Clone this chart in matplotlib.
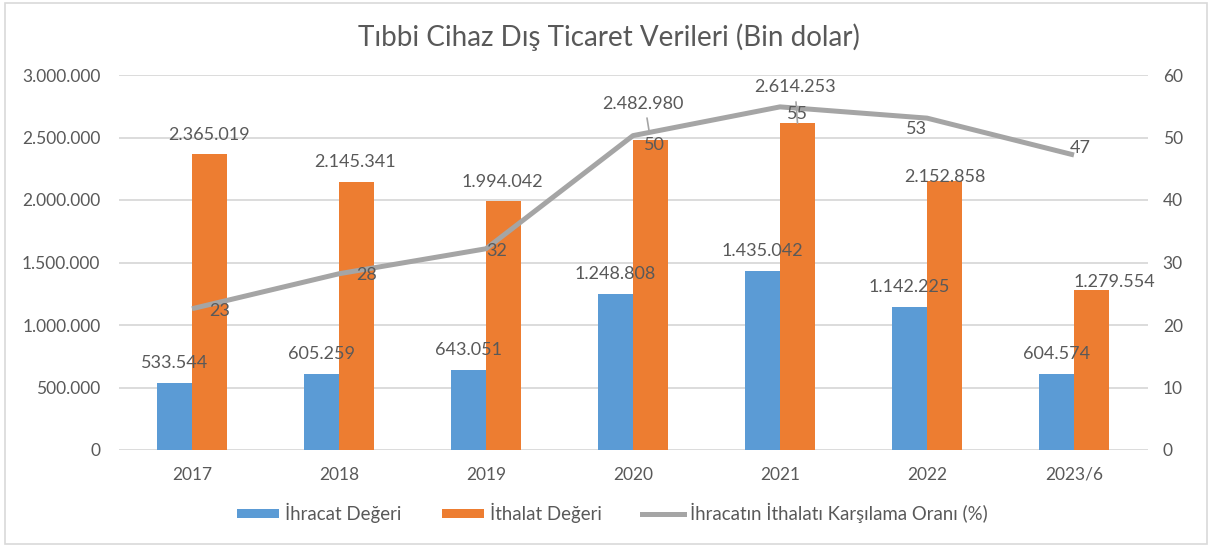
import matplotlib
matplotlib.use('Agg')
import matplotlib.pyplot as plt
from matplotlib.patches import Rectangle, Patch
from matplotlib.lines import Line2D
from matplotlib.ticker import FuncFormatter
import numpy as np

# ---------------- data ----------------
categories = ['2017', '2018', '2019', '2020', '2021', '2022', '2023/6']
ihracat = [533544, 605259, 643051, 1248808, 1435042, 1142225, 604574]
ithalat = [2365019, 2145341, 1994042, 2482980, 2614253, 2152858, 1279554]
oran = [22.6, 28.2, 32.2, 50.3, 54.9, 53.1, 47.2]
oran_labels = ['23', '28', '32', '50', '55', '53', '47']
left_ticks = [0, 500000, 1000000, 1500000, 2000000, 2500000, 3000000]
right_ticks = [0, 10, 20, 30, 40, 50, 60]
title = 'Tıbbi Cihaz Dış Ticaret Verileri (Bin dolar)'
legend_labels = ['İhracat Değeri', 'İthalat Değeri', 'İhracatın İthalatı Karşılama Oranı (%)']

# ---------------- style ----------------
BLUE = '#5B9BD5'
ORANGE = '#ED7D31'
GRAY = '#A5A5A5'
TXT = '#595959'
GRID = '#D9D9D9'
FONT = 'Lato'
PX = 0.72  # points per pixel at dpi 100

# label offsets in pixels (dx right, dy up)
ihr_off = [(0, 20)] * 7
ith_off = [(0, 19.5), (-1.5, 20), (-1.5, 19), (-7.5, 36), (-2.5, 36), (0, 4), (22.5, 8)]
oran_off = [(28, -2), (28, -1), (11, -2), (21, -9), (17, -7), (-11, -11), (6, 7)]

plt.rcParams['font.family'] = [FONT, 'DejaVu Sans']

W, H = 1215, 547
fig = plt.figure(figsize=(W / 100, H / 100), dpi=100)
fig.patch.set_facecolor('white')

x0, x1, ytop, ybot = 118.5, 1147.5, 75, 450
ax = fig.add_axes([x0 / W, 1 - ybot / H, (x1 - x0) / W, (ybot - ytop) / H])
ax2 = ax.twinx()

x = np.arange(len(categories))
bw = 0.238
ax.bar(x - bw / 2, ihracat, bw, color=BLUE, zorder=2)
ax.bar(x + bw / 2, ithalat, bw, color=ORANGE, zorder=2)

ax.set_xlim(-0.5, len(categories) - 0.5)
ax.set_ylim(0, 3000000)
ax.set_yticks(left_ticks)
ax.yaxis.set_major_formatter(FuncFormatter(lambda v, p: f'{int(v):,}'.replace(',', '.')))
ax.grid(axis='y', color=GRID, lw=1.3, zorder=0)
ax.set_axisbelow(True)
ax.set_xticks(x)
ax.set_xticklabels(categories)
for s in ax.spines.values():
    s.set_visible(False)
for s in ax2.spines.values():
    s.set_visible(False)
ax.tick_params(axis='y', length=0, pad=13, labelsize=12.5, labelcolor=TXT)
ax.tick_params(axis='x', length=0, pad=12, labelsize=12.5, labelcolor=TXT)

ax2.plot(x, oran, color=GRAY, lw=3.6, solid_joinstyle='round', solid_capstyle='butt', zorder=3)
ax2.set_ylim(0, 60)
ax2.set_yticks(right_ticks)
ax2.tick_params(axis='y', length=0, pad=11, labelsize=12.5, labelcolor=TXT)

fmt = lambda v: f'{v:,}'.replace(',', '.')

# bar labels (drawn on ax2 so they sit above the line)
to_right = lambda v: v / 3000000 * 60
for i, v in enumerate(ihracat):
    dx, dy = ihr_off[i]
    ax2.annotate(fmt(v), xy=(x[i] - bw / 2, to_right(v)), xytext=(dx * PX, dy * PX),
                 textcoords='offset points', ha='center', va='center',
                 fontsize=13, color=TXT, zorder=5)
for i, v in enumerate(ithalat):
    dx, dy = ith_off[i]
    ax2.annotate(fmt(v), xy=(x[i] + bw / 2, to_right(v)), xytext=(dx * PX, dy * PX),
                 textcoords='offset points', ha='center', va='center',
                 fontsize=13, color=TXT, zorder=5)

# leader lines for moved labels (2020, 2021 imports)
leaders = {3: ((-3.5, 21.6), (-2.5, 7.6)), 4: ((-1.5, 21.3), (-1.5, 0))}
for i, (a, b) in leaders.items():
    ax2.annotate('', xy=(x[i] + bw / 2, to_right(ithalat[i])), xycoords='data',
                 xytext=(a[0] * PX, a[1] * PX), textcoords='offset points',
                 arrowprops=dict(arrowstyle='-', color=GRAY, lw=1.2,
                                 shrinkA=0, shrinkB=b[1] * PX + 0.01))

for i, v in enumerate(oran):
    dx, dy = oran_off[i]
    ax2.annotate(oran_labels[i], xy=(x[i], v), xytext=(dx * PX, dy * PX),
                 textcoords='offset points', ha='center', va='center',
                 fontsize=13, color=TXT, zorder=5)

fig.text(0.501, 1 - 37 / H, title, ha='center', va='center', fontsize=20, color=TXT)

handles = [Patch(facecolor=BLUE, edgecolor='none'),
           Patch(facecolor=ORANGE, edgecolor='none'),
           Line2D([0], [0], color=GRAY, lw=3.6)]
leg = fig.legend(handles, legend_labels, loc='center', bbox_to_anchor=(0.504, 1 - 513 / H),
                 ncol=3, frameon=False, fontsize=13.4, handlelength=2.26, handleheight=0.43,
                 handletextpad=0.32, columnspacing=2.15, labelcolor=TXT)

fig.patches.append(Rectangle((5 / W, 3 / H), (1207 - 5) / W, (544 - 3) / H,
                             transform=fig.transFigure, fill=False,
                             edgecolor=GRID, lw=1.2))

fig.savefig('out.png', dpi=100, facecolor='white')
